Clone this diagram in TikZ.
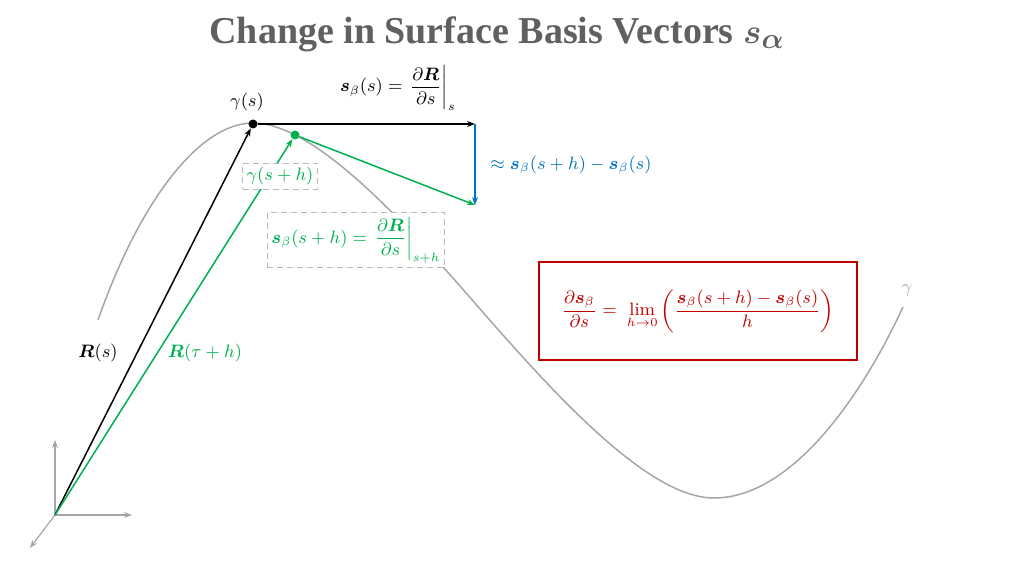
\documentclass[tikz,border=0pt]{standalone}
\usepackage{amsmath}
\usepackage{bm}
\usepackage{fontspec}
\newfontfamily\titlefont{Liberation Serif}
\definecolor{curvegray}{RGB}{166,166,166}
\definecolor{titlegray}{RGB}{96,96,96}
\definecolor{vgreen}{RGB}{0,176,80}
\definecolor{vblue}{RGB}{0,112,192}
\definecolor{vred}{RGB}{192,0,0}
\usetikzlibrary{arrows.meta}
\tikzset{
  dot/.style={circle, fill, inner sep=0pt, minimum size=4.5pt},
  tagbox/.style={draw=gray!55, densely dashed, fill=white, inner sep=2pt},
  vec/.style={->, line width=0.75pt},
  axis/.style={->, curvegray, line width=0.6pt},
}
\begin{document}
\begin{tikzpicture}[x=0.5pt, y=-0.5pt, >={Stealth[length=4pt, width=3pt]}, font=\small]
\useasboundingbox (0,0) rectangle (1024,576);
\node[text=titlegray, inner sep=0pt] (title) at (497,34) {\titlefont\fontsize{19}{23}\selectfont\bfseries Change in Surface Basis Vectors $\bm{s}_{\bm{\alpha}}$};

% the curve gamma
\draw[curvegray, line width=0.75pt] (98,320) .. controls (140,200) and (200,123) .. (253,123)
  .. controls (320,123) and (420,240) .. (487,317)
  .. controls (560,400) and (650,498) .. (714,498)
  .. controls (790,498) and (860,400) .. (903,307);
\node[text=curvegray] (lgam) at (907,290) {$\gamma$};

% axes
\coordinate (O) at (55,515);
\coordinate (ax) at (132,515);
\coordinate (ay) at (55,440);
\coordinate (az) at (30,548);
\draw[axis] (O) -- (ax);
\draw[axis] (O) -- (ay);
\draw[axis] (O) -- (az);

% points on the curve
\node[dot] (gs) at (253,124) {};
\node[dot, vgreen] (gsh) at (295,135) {};
\coordinate (tip) at (475,124);
\coordinate (tiph) at (475,205);

% vectors
\draw[vec] (O) -- (gs);
\draw[vec, vgreen] (O) -- (gsh);
\draw[vec] (gs) -- (tip);
\draw[vec, vgreen] (gsh) -- (tiph);
\draw[vec, vblue] (tip) -- (tiph);

% labels
\node (lgs) at (247,102) {$\gamma(s)$};
\node[inner sep=1pt] (lsb) at (398,88) {$\bm{s}_\beta(s) = \left.\dfrac{\partial\bm{R}}{\partial s}\right|_s$};
\node[text=vblue] (ldiff) at (571,165) {$\approx \bm{s}_\beta(s+h)-\bm{s}_\beta(s)$};
\node[tagbox, text=vgreen, minimum width=37.5pt, minimum height=12.5pt] (lgsh) at (280,176) {$\gamma(s+h)$};
\node[tagbox, text=vgreen, minimum width=83.5pt, minimum height=27.5pt] (lsbh) at (356,240) {$\bm{s}_\beta(s+h) = \left.\dfrac{\partial\bm{R}}{\partial s}\right|_{s+h}$};
\node (lR) at (98,353) {$\bm{R}(s)$};
\node[text=vgreen] (lRh) at (205,353) {$\bm{R}(\tau+h)$};
\node[draw=vred, line width=0.7pt, text=vred, fill=white, minimum width=159pt, minimum height=49pt] (lim) at (698,311)
  {$\dfrac{\partial\bm{s}_\beta}{\partial s} = \;\lim\limits_{h\to 0}\left(\dfrac{\bm{s}_\beta(s+h)-\bm{s}_\beta(s)}{h}\right)$};
\end{tikzpicture}
\end{document}
